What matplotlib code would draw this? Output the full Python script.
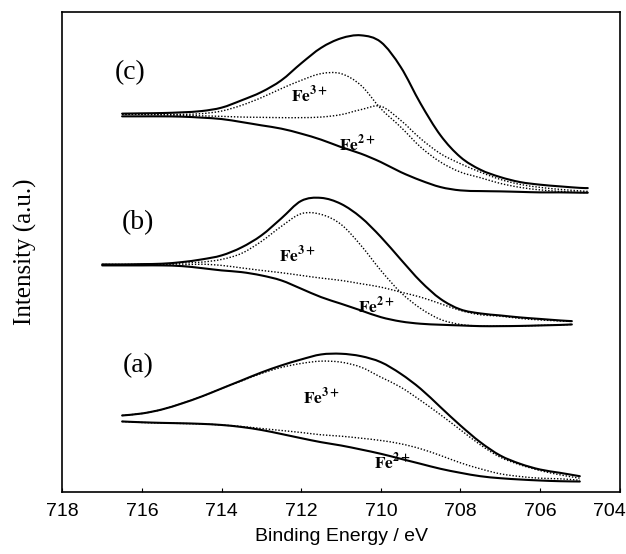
import matplotlib
matplotlib.use("Agg")
import numpy as np
import matplotlib.pyplot as plt
import matplotlib.transforms as mtransforms
from matplotlib.path import Path
from matplotlib.patches import PathPatch

plt.rcParams['mathtext.fontset'] = 'stix'

# ---------------- data (binding energy in eV, intensity in arbitrary units) -------------
# spectrum (a)
E_a = [716.5, 716.0, 715.5, 715.0, 714.5, 714.0, 713.5, 713.0, 712.5, 712.0, 711.5, 711.0,
       710.5, 710.0, 709.5, 709.0, 708.5, 708.0, 707.5, 707.0, 706.5, 706.0, 705.5, 705.0]
env_a = [76, 78, 82, 88, 95, 103, 111, 119, 126, 132, 137, 137.7,
         135.3, 129.3, 117.7, 102.7, 84.3, 66, 49.3, 36, 27.7, 22, 18.7, 15.3]
fe3_a = [76, 78, 82, 88, 95, 103, 110.5, 118, 124, 128, 130.3, 129.3,
         124.3, 114.3, 104.3, 91, 76.7, 61.7, 46.7, 34.3, 26.7, 21, 16.7, 13.3]
fe2_a = [70, 69, 68.5, 68, 67.5, 66.5, 65, 63, 61, 59, 56.7, 55.3,
         53.3, 51, 47.7, 42.7, 36, 28.7, 22.7, 17.7, 15, 13.3, 12.7, 11.3]
base_a = [70, 69.2, 68.6, 68.2, 67.6, 66.5, 64.5, 61.5, 57.5, 53.3, 49.3, 46,
          42, 37.7, 32.7, 27.7, 22.7, 18.7, 15.3, 13.3, 12, 11, 10.3, 10]

# spectrum (b)
E_b = [717.0, 716.5, 716.0, 715.5, 715.0, 714.5, 714.0, 713.5, 713.0, 712.5, 712.0, 711.5,
       711.0, 710.5, 710.0, 709.5, 709.0, 708.5, 708.0, 707.5, 707.0, 706.5, 706.0, 705.5, 705.2]
env_b = [227, 227, 227.3, 227.7, 229.3, 232, 236, 244, 256, 273, 290.5, 293.5,
         287.5, 274, 254.5, 232, 210, 192.5, 182, 178, 176, 174, 172.5, 171, 170.3]
fe3_b = [227, 227, 227, 227, 228.3, 229.3, 232, 238, 250, 265, 277.7, 277,
         267, 246, 221, 199, 183, 172, 167, 165.3, 165.3, 165.5, 166, 166.5, 167]
fe2_b = [226.5, 226.5, 226.5, 226.5, 226.5, 227.2, 226, 223.5, 221, 218.7, 216, 213.3,
         211, 207.7, 204.3, 199.3, 194.3, 187.7, 181, 176.7, 175.3, 173, 171.5, 170.5, 170]
base_b = [226, 226, 226, 226, 225.3, 223.3, 221, 219.3, 216, 211, 202.7, 194.3,
          187.7, 181, 174.3, 170, 167.7, 166.7, 166, 165.3, 165.3, 165.5, 166, 166.5, 167]

# spectrum (c)
E_c = [716.5, 716.0, 715.5, 715.0, 714.5, 714.0, 713.5, 713.0, 712.5, 712.0, 711.5, 711.0,
       710.5, 710.0, 709.5, 709.0, 708.5, 708.0, 707.5, 707.0, 706.5, 706.0, 705.5, 705.0, 704.8]
env_c = [377.7, 378, 378.3, 379, 380.3, 383.7, 391, 399.3, 411, 428, 443.5, 453,
         456, 449.3, 424.3, 387.7, 356, 334.3, 321.7, 314.3, 309.3, 306.7, 305, 303.5, 303.3]
fe3_c = [377, 377, 377, 377, 377.7, 380.3, 386, 393.7, 402.7, 411, 417.7, 417.7,
         406, 382.7, 364.3, 344.3, 329.3, 319.3, 313.7, 308, 304, 301.5, 300, 299, 298.7]
fe2_c = [377, 377, 376.5, 376, 375.5, 375, 374.3, 374, 373.7, 373.7, 374.3, 376.7,
         381.7, 385, 371, 352.7, 337.7, 327.7, 319.3, 312, 307, 304, 302, 300.5, 300]
base_c = [375, 375, 375, 374.7, 373.7, 372.3, 369.3, 366, 362.7, 357.7, 351.7, 344.3,
          337.7, 329.3, 319.3, 311, 304.3, 301, 300.3, 300, 299.5, 299, 299, 298.7, 298.7]

panel_labels = ['(a)', '(b)', '(c)']
x_ticks = [718, 716, 714, 712, 710, 708, 706, 704]


def smooth_curve(ax, x, y, **kw):
    """Draw a smooth Bezier (Catmull-Rom) curve through the data points."""
    pts = np.column_stack([x, y]).astype(float)
    n = len(pts)
    verts = [pts[0]]
    codes = [Path.MOVETO]
    for i in range(n - 1):
        p0 = pts[max(i - 1, 0)]
        p1 = pts[i]
        p2 = pts[i + 1]
        p3 = pts[min(i + 2, n - 1)]
        verts += [p1 + (p2 - p0) / 6.0, p2 - (p3 - p1) / 6.0, p2]
        codes += [Path.CURVE4] * 3
    patch = PathPatch(Path(verts, codes), fill=False, transform=ax.transData, **kw)
    ax.add_patch(patch)


# ---------------- figure ---------------------------------------------------------------
fig = plt.figure(figsize=(6.26, 5.54), dpi=100)
ax = fig.add_axes([0.0997, 0.1128, 0.8901, 0.865])

solid = dict(edgecolor='black', lw=1.5, capstyle='round')
dotted = dict(edgecolor='black', lw=1.0, linestyle=(0, (1, 1.3)))

for E, env, f3, f2, base in [(E_a, env_a, fe3_a, fe2_a, base_a),
                             (E_b, env_b, fe3_b, fe2_b, base_b),
                             (E_c, env_c, fe3_c, fe2_c, base_c)]:
    smooth_curve(ax, E, env, **solid)
    smooth_curve(ax, E, base, **solid)
    smooth_curve(ax, E, f3, **dotted)
    smooth_curve(ax, E, f2, **dotted)

ax.set_xlim(718, 704)
ax.set_ylim(0, 479)
ax.set_xticks(x_ticks)
ax.set_xticklabels([str(t) for t in x_ticks], fontfamily='Liberation Sans', fontsize=14)
ax.set_yticks([])
ax.tick_params(axis='x', direction='in', length=3, width=0.8, pad=8)
for s in ax.spines.values():
    s.set_linewidth(1.2)

# shift the last tick label so it stays inside the figure
lab = ax.get_xticklabels()[-1]
lab.set_transform(lab.get_transform() + mtransforms.ScaledTranslation(-0.10, 0, fig.dpi_scale_trans))

ax.set_xlabel('Binding Energy / eV', fontfamily='Liberation Sans', fontsize=14, labelpad=6)
ax.set_ylabel('Intensity (a.u.)', fontfamily='Liberation Serif', fontsize=18, labelpad=18)

serif = dict(fontfamily='Liberation Serif', fontsize=20, ha='center', va='center')
ax.text(716.1, 126, panel_labels[0], **serif)
ax.text(716.1, 269, panel_labels[1], **serif)
ax.text(716.3, 419, panel_labels[2], **serif)

fe = dict(fontsize=12.5, ha='center', va='center')
ax.text(711.8, 396, r'$\mathbf{Fe^{3+}}$', **fe)
ax.text(710.6, 347, r'$\mathbf{Fe^{2+}}$', **fe)
ax.text(712.1, 236, r'$\mathbf{Fe^{3+}}$', **fe)
ax.text(710.1, 185, r'$\mathbf{Fe^{2+}}$', **fe)
ax.text(711.5, 94, r'$\mathbf{Fe^{3+}}$', **fe)
ax.text(709.7, 29, r'$\mathbf{Fe^{2+}}$', **fe)

fig.savefig('out.png', dpi=100)
